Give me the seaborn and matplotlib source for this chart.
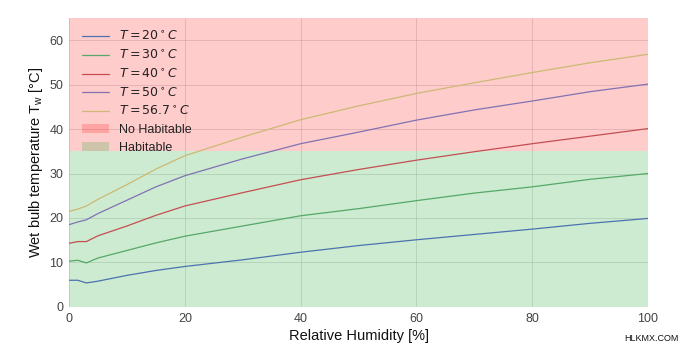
import matplotlib
matplotlib.use("Agg")
import matplotlib.pyplot as plt
import seaborn as sns
import pandas as pd
from matplotlib.patches import Patch

rh = [0, 1.5, 3, 5, 10, 15, 20, 30, 40, 50, 60, 70, 80, 90, 100]
t20 = [6.0, 6.0, 5.4, 5.8, 7.1, 8.2, 9.1, 10.6, 12.3, 13.8, 15.1, 16.3, 17.5, 18.8, 19.9]
t30 = [10.3, 10.5, 9.9, 11.0, 12.7, 14.4, 15.9, 18.2, 20.5, 22.1, 23.9, 25.6, 27.0, 28.7, 30.0]
t40 = [14.3, 14.7, 14.7, 16.0, 18.2, 20.6, 22.7, 25.7, 28.6, 30.9, 33.0, 34.9, 36.7, 38.4, 40.1]
t50 = [18.5, 19.1, 19.6, 21.0, 24.0, 27.0, 29.5, 33.3, 36.7, 39.3, 42.0, 44.3, 46.3, 48.4, 50.1]
t567 = [21.5, 22.0, 22.7, 24.2, 27.5, 31.0, 34.0, 38.2, 42.1, 45.2, 48.0, 50.4, 52.7, 54.9, 56.8]

series_labels = [r"$T = 20^\circ C$", r"$T = 30^\circ C$", r"$T = 40^\circ C$",
                 r"$T = 50^\circ C$", r"$T = 56.7^\circ C$"]
series_values = [t20, t30, t40, t50, t567]
colors = ["#4C72B0", "#55A868", "#C44E52", "#8172B2", "#CCB974"]

threshold = 35
ymax = 65
region_labels = ["No Habitable", "Habitable"]

sns.set_theme(style="whitegrid")
plt.rcParams["font.family"] = ["Liberation Sans", "DejaVu Sans"]
plt.rcParams["mathtext.fontset"] = "dejavusans"

fig = plt.figure(figsize=(7, 3.5), dpi=100)
ax = fig.add_axes([0.0986, 0.123, 0.8271, 0.826])

for lab, vals, c in zip(series_labels, series_values, colors):
    df = pd.DataFrame({"rh": rh, "tw": vals})
    sns.lineplot(data=df, x="rh", y="tw", color=c, lw=0.9, ax=ax, label=lab)

ax.axhspan(threshold, ymax, color="red", alpha=0.2, lw=0)
ax.axhspan(0, threshold, color="#1fa82f", alpha=0.22, lw=0)

ax.set_xlim(0, 100)
ax.set_ylim(0, ymax)
ax.set_xticks([0, 20, 40, 60, 80, 100])
ax.set_yticks([0, 10, 20, 30, 40, 50, 60])
ax.tick_params(labelsize=9, colors="#444444", length=0, pad=4)
ax.grid(True, color="#999999", lw=0.6, alpha=0.35)
for s in ax.spines.values():
    s.set_visible(False)

ax.set_xlabel("Relative Humidity [%]", fontsize=10.5, color="#111111", labelpad=3)
ax.set_ylabel("Wet bulb temperature T$_\\mathregular{w}$ [°C]", fontsize=10.5,
              color="#111111", labelpad=3)

handles, labels = ax.get_legend_handles_labels()
handles += [Patch(facecolor="red", alpha=0.2, lw=0),
            Patch(facecolor="#1fa82f", alpha=0.22, lw=0)]
labels += region_labels
ax.legend(handles, labels, loc="upper left", frameon=False, fontsize=9,
          labelspacing=0.45, handlelength=2.2, borderaxespad=0.6,
          labelcolor="#222222")

fig.text(0.97, 0.02, "HLKMX.COM", ha="right", va="bottom", fontsize=6.5,
         color="#111111")

fig.savefig("out.png", dpi=100)
